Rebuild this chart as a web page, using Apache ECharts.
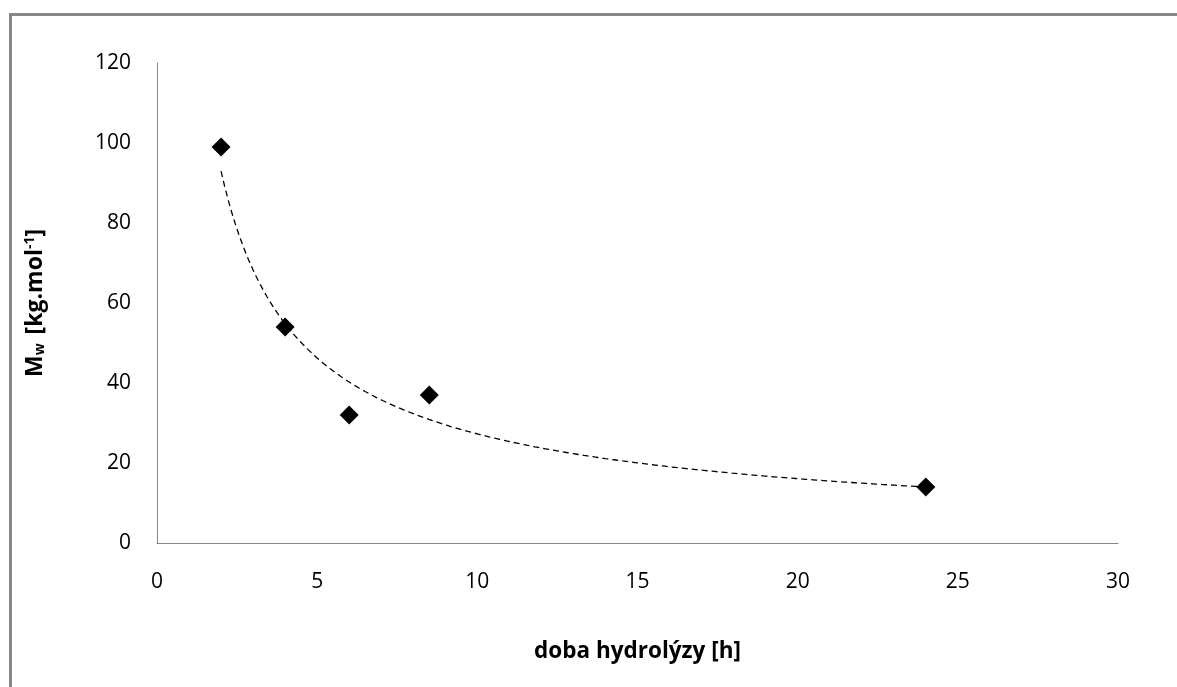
<!DOCTYPE html>
<html>
<head>
<meta charset="utf-8">
<script src="https://cdn.jsdelivr.net/npm/echarts@6/dist/echarts.min.js"></script>
<style>
  html, body { margin: 0; padding: 0; background: #fff; }
  #chart { width: 1177px; height: 687px; }
</style>
</head>
<body>
<div id="chart"></div>
<script>
// Hydrolysis time [h] and weight-average molar mass Mw [kg/mol]
const hours = [2, 4, 6, 8.5, 24];
const mw = [99, 54, 32, 37, 14];
const xTicks = [0, 5, 10, 15, 20, 25, 30];
const yTicks = [0, 20, 40, 60, 80, 100, 120];

// Power-law trend line y = a * x^b, least squares on log-log values
function powerFit(xs, ys) {
  const lx = xs.map(Math.log), ly = ys.map(Math.log);
  const n = xs.length;
  const mx = lx.reduce((s, v) => s + v, 0) / n;
  const my = ly.reduce((s, v) => s + v, 0) / n;
  let sxy = 0, sxx = 0;
  for (let i = 0; i < n; i++) {
    sxy += (lx[i] - mx) * (ly[i] - my);
    sxx += (lx[i] - mx) * (lx[i] - mx);
  }
  const b = sxy / sxx;
  const a = Math.exp(my - b * mx);
  return x => a * Math.pow(x, b);
}
const trend = powerFit(hours, mw);
const xStart = Math.min(...hours), xEnd = Math.max(...hours);
const trendPts = [];
for (let i = 0; i <= 200; i++) {
  const x = xStart + (xEnd - xStart) * i / 200;
  trendPts.push([x, trend(x)]);
}

const font = '"Open Sans", sans-serif';
const chart = echarts.init(document.getElementById('chart'));
chart.setOption({
  animation: false,
  backgroundColor: '#fff',
  graphic: [{
    type: 'rect',
    left: 8, top: 12,
    shape: { width: 1300, height: 800 },
    style: { fill: 'none', stroke: '#878787', lineWidth: 3 },
    silent: true
  }],
  grid: { left: 157, top: 63, right: 59, bottom: 144 },
  xAxis: {
    type: 'value',
    min: xTicks[0], max: xTicks[xTicks.length - 1], interval: 5,
    name: 'doba hydrolýzy [h]',
    nameLocation: 'middle',
    nameGap: 97,
    nameTextStyle: { fontFamily: font, fontWeight: 'bold', fontSize: 22.5, color: '#000' },
    axisLine: { show: true, onZero: false, lineStyle: { color: '#878787', width: 1 } },
    axisTick: { show: false },
    splitLine: { show: false },
    axisLabel: { fontFamily: font, fontSize: 21, color: '#000', margin: 29 }
  },
  yAxis: {
    type: 'value',
    min: yTicks[0], max: yTicks[yTicks.length - 1], interval: 20,
    name: 'M{sub|w} [kg.mol{sup|-1}]',
    nameLocation: 'middle',
    nameRotate: 90,
    nameGap: 110,
    nameTextStyle: {
      fontFamily: font, fontWeight: 'bold', fontSize: 23, color: '#000',
      rich: {
        sub: { fontFamily: font, fontWeight: 'bold', fontSize: 14, color: '#000', verticalAlign: 'bottom', padding: [10, 3, 0, 0] },
        sup: { fontFamily: font, fontWeight: 'bold', fontSize: 14, color: '#000', verticalAlign: 'top', padding: [0, 0, 10, 0] }
      }
    },
    axisLine: { show: true, lineStyle: { color: '#878787', width: 1 } },
    axisTick: { show: false },
    splitLine: { show: false },
    axisLabel: { fontFamily: font, fontSize: 21, color: '#000', margin: 26 }
  },
  series: [
    {
      name: 'trend',
      type: 'line',
      data: trendPts,
      showSymbol: false,
      smooth: false,
      lineStyle: { color: '#000', width: 1.3, type: [6, 4] },
      z: 1
    },
    {
      name: 'Mw',
      type: 'scatter',
      data: hours.map((h, i) => [h, mw[i]]),
      symbol: 'diamond',
      symbolSize: 19,
      itemStyle: { color: '#000', opacity: 1 },
      z: 2
    }
  ]
});
</script>
</body>
</html>
